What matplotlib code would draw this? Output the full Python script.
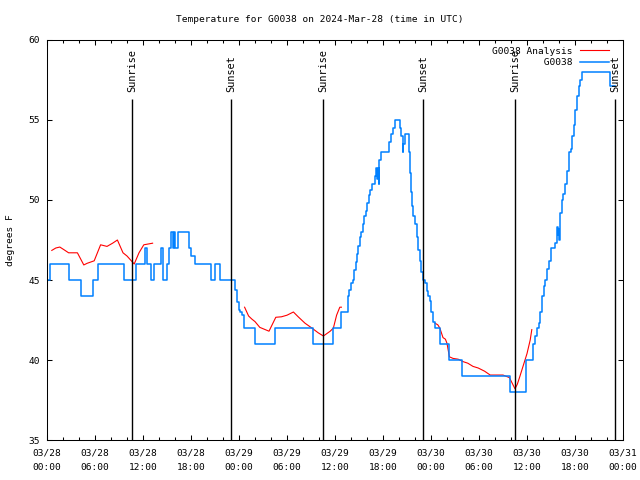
import datetime as dt
import numpy as np
import matplotlib
matplotlib.use('Agg')
import matplotlib.pyplot as plt
import matplotlib.dates as mdates

start = dt.datetime(2024, 3, 28)

# station G0038 readings (deg F), change points as hours after 03/28 00:00 UTC
obs_hours = [0.0, 0.4, 2.7, 4.2, 5.7, 6.4, 9.6, 11.1, 12.3, 12.5, 13.0, 13.4, 14.2, 14.45,
             15.05, 15.3, 15.55, 15.7, 15.85, 16.0, 16.4, 17.7, 18.05, 18.45, 20.55, 21.05,
             21.6, 23.5, 23.7, 23.8, 23.95, 24.1, 24.4, 24.6, 26.05, 28.45, 33.25, 35.75,
             36.7, 37.6, 37.8, 38.0, 38.2, 38.4, 38.6, 38.75, 38.9, 39.1, 39.3, 39.5, 39.65,
             39.85, 40.0, 40.2, 40.4, 40.6, 41.05, 41.15, 41.25, 41.35, 41.45, 41.55, 41.75,
             42.8, 42.95, 43.2, 43.45, 44.1, 44.3, 44.45, 44.55, 44.75, 45.25, 45.4, 45.5,
             45.6, 45.75, 45.95, 46.2, 46.4, 46.6, 46.8, 47.0, 47.3, 47.45, 47.65, 47.85,
             48.05, 48.3, 48.5, 49.15, 50.3, 51.85, 57.85, 59.85, 60.7, 60.95, 61.2, 61.45,
             61.65, 61.85, 62.1, 62.3, 62.5, 62.75, 62.95, 63.55, 63.75, 63.85, 63.95, 64.0,
             64.1, 64.35, 64.55, 64.8, 65.0, 65.25, 65.45, 65.65, 65.85, 66.05, 66.25, 66.45,
             66.65, 66.85, 70.35, 71.0]
obs_temps = [45, 46, 45, 44, 45, 46, 45, 46, 47, 46, 45, 46, 47, 45,
             46, 47, 48, 47, 48, 47, 48, 47, 46.5, 46, 45, 46,
             45, 44.4, 44.0, 43.6, 43.1, 43.0, 42.8, 42, 41, 42, 41, 42,
             43, 44, 44.4, 44.8, 45.0, 45.6, 46.1, 46.6, 47.1, 47.7, 48.0, 48.5, 49.0,
             49.3, 49.8, 50.3, 50.6, 51.0, 51.5, 52.0, 51.3, 52.0, 51.0, 52.5, 53.0,
             53.6, 54.1, 54.5, 55.0, 54.5, 54.0, 53.0, 53.5, 54.1, 53.0, 51.7, 50.5,
             49.6, 49.0, 48.5, 47.7, 46.9, 46.2, 45.5, 45.0, 44.8, 44.3, 44.0, 43.7,
             43.0, 42.4, 42.0, 41.0, 40.0, 39.0, 38.0, 40.0, 41.0, 41.5, 42.0, 42.3,
             43.0, 44.0, 44.6, 45.0, 45.7, 46.2, 47.0, 47.3, 48.3, 47.8, 48.2, 47.5,
             49.2, 50.0, 50.4, 51.0, 51.8, 53.0, 53.2, 54.0, 54.7, 55.6, 56.5, 57.1,
             57.5, 58.0, 57.1, 57.1]

# analysis temperatures (deg F), nan marks a gap
ana_hours = [0.6, 1.1, 1.6, 2.1, 2.7, 3.8, 4.6, 5.0, 5.9, 6.7, 7.5, 8.2, 8.8, 9.5, 10.0,
             10.9, 11.5, 12.1, 13.2,
             18.0,
             24.7, 25.2, 25.6, 26.0, 26.6, 27.75, 28.6, 29.3, 30.0, 30.8, 31.4, 32.25, 33.1,
             33.9, 34.55, 35.4, 35.8, 36.2, 36.6, 36.8,
             42.0,
             48.5, 48.85, 49.1, 49.5, 49.8, 50.0, 50.3, 50.75, 51.4, 52.0, 52.6, 53.25, 53.9,
             54.7, 55.4, 57.0, 57.8, 58.1, 58.5, 58.8, 59.1, 59.5, 60.0, 60.4, 60.6]
ana_temps = [46.85, 47.0, 47.06, 46.9, 46.7, 46.7, 45.94, 46.04, 46.2, 47.2, 47.1, 47.3, 47.5,
             46.7, 46.5, 46.0, 46.7, 47.2, 47.3,
             np.nan,
             43.3, 42.75, 42.56, 42.4, 42.04, 41.8, 42.67, 42.7, 42.8, 43.0, 42.7, 42.3, 42.0,
             41.7, 41.5, 41.8, 42.0, 42.8, 43.3, 43.3,
             np.nan,
             42.3, 42.2, 42.0, 41.4, 41.3, 41.04, 40.2, 40.1, 40.05, 39.9, 39.8, 39.6, 39.5,
             39.3, 39.06, 39.06, 38.9, 38.6, 38.2, 38.5, 38.96, 39.6, 40.4, 41.25, 41.9]

sun_names = ['Sunrise', 'Sunset', 'Sunrise', 'Sunset', 'Sunrise', 'Sunset']
sun_hours = [10.65, 23.05, 34.55, 47.05, 58.5, 71.0]


def to_times(hours):
    return [start + dt.timedelta(hours=h) for h in hours]


mono = 'DejaVu Sans Mono'
fs = 6.8
plt.rcParams['font.family'] = mono
plt.rcParams['font.size'] = fs

fig = plt.figure(figsize=(6.4, 4.8), dpi=100)
ax = fig.add_axes([47 / 640, 40 / 480, 576 / 640, 400 / 480])

ax.plot(to_times(ana_hours), ana_temps, color='#ff0000', lw=0.8, label='G0038 Analysis')
ax.plot(to_times(obs_hours), obs_temps, color='#0080ff', lw=1.1, drawstyle='steps-post',
        label='         G0038')

for name, h in zip(sun_names, sun_hours):
    t = start + dt.timedelta(hours=h)
    ax.vlines(t, 35, 56.3, color='black', lw=1.0)
    ax.text(t, 56.75, name, rotation=90, ha='center', va='bottom', fontsize=7.4)

ax.set_xlim(start, start + dt.timedelta(hours=72))
ax.set_ylim(35, 60)
ax.set_yticks(np.arange(35, 61, 5))
ax.xaxis.set_major_locator(mdates.HourLocator(byhour=range(0, 24, 6)))
ax.xaxis.set_minor_locator(mdates.HourLocator(byhour=range(0, 24, 2)))
ax.xaxis.set_major_formatter(mdates.DateFormatter('%m/%d\n%H:%M'))
ax.tick_params(which='both', direction='in', top=True, right=True, width=0.75)
ax.tick_params(which='major', length=3.5)
ax.tick_params(which='minor', length=2.2)
ax.tick_params(axis='y', pad=5)
ax.tick_params(axis='x', pad=6)
for lbl in ax.get_xticklabels():
    lbl.set_linespacing(1.8)
for s in ax.spines.values():
    s.set_linewidth(0.75)

ax.set_ylabel('degrees F')
ax.yaxis.set_label_coords(-0.056, 0.5)

fig.text(0.5, 1 - 20 / 480, 'Temperature for G0038 on 2024-Mar-28 (time in UTC)',
         ha='center', va='center', fontsize=fs)

ax.legend(loc='upper right', bbox_to_anchor=(0.987, 1.0), frameon=False, markerfirst=False,
          handlelength=3.1, handletextpad=0.8, labelspacing=0.3, borderpad=0.2,
          fontsize=fs)

fig.savefig('out.png', dpi=100)
